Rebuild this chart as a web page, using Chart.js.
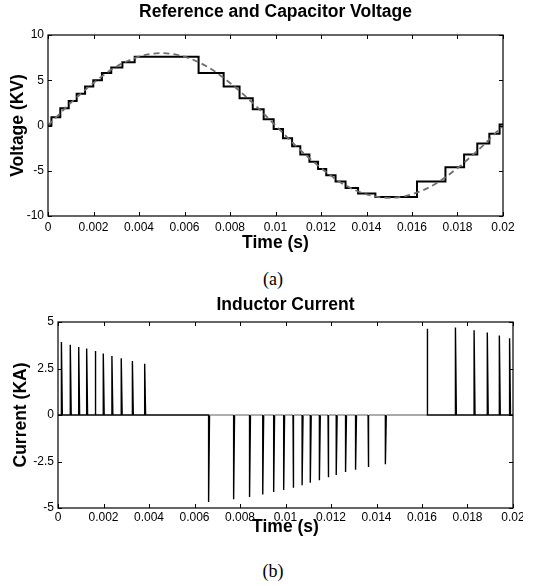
<!DOCTYPE html>
<html>
<head>
<meta charset="utf-8">
<script src="https://cdn.jsdelivr.net/npm/chart.js@4.4.0/dist/chart.umd.min.js"></script>
<style>
  body { margin: 0; background: #fff; width: 546px; height: 586px; position: relative; overflow: hidden; }
  .panel { position: absolute; left: 0; overflow: hidden; }
  .cap { position: absolute; width: 546px; text-align: center; font: 18px "Liberation Serif", "Times New Roman", serif; color: #000; }
</style>
</head>
<body>
<div class="panel" style="top:0; width:546px; height:255px;"><canvas id="voltChart" width="546" height="255"></canvas></div>
<div class="cap" style="top:269px; left:0;">(a)</div>
<div class="panel" style="top:295px; width:523px; height:245px;"><canvas id="currChart" width="546" height="245"></canvas></div>
<div class="cap" style="top:561px; left:0;">(b)</div>
<script>
// switching instants (s), shared by both plots
const switchTimes = [0.00015, 0.00054, 0.00091, 0.00126, 0.00163, 0.00199, 0.00237, 0.00278, 0.00327, 0.00381,
  0.00662, 0.00772, 0.00842, 0.00900, 0.00948, 0.00992, 0.01033, 0.01073, 0.01109, 0.01149, 0.01187, 0.01223,
  0.01264, 0.01308, 0.01363, 0.01439, 0.01622, 0.01747, 0.01829, 0.01887, 0.01940, 0.01985];

// capacitor voltage level (kV) after each switching instant
const capLevels = [0.9, 1.9, 2.7, 3.5, 4.3, 5.0, 5.8, 6.4, 7.0, 7.6,
  5.8, 4.3, 3.0, 1.8, 0.7, -0.4, -1.4, -2.3, -3.2, -4.0, -4.8, -5.5,
  -6.2, -6.9, -7.5, -7.9, -6.2, -4.6, -3.2, -2.0, -0.9, 0.1];

// reference voltage read every 1 ms (kV)
const refTimes = [0, 0.001, 0.002, 0.003, 0.004, 0.005, 0.006, 0.007, 0.008, 0.009, 0.01,
  0.011, 0.012, 0.013, 0.014, 0.015, 0.016, 0.017, 0.018, 0.019, 0.02];
const refValues = [0, 2.5, 4.7, 6.5, 7.6, 8.0, 7.6, 6.5, 4.7, 2.5, 0,
  -2.5, -4.7, -6.5, -7.6, -8.0, -7.6, -6.5, -4.7, -2.5, 0];

// inductor current peak (kA) at each switching instant
const currentPeaks = [3.92, 3.78, 3.66, 3.57, 3.44, 3.30, 3.17, 3.05, 2.90, 2.76,
  -4.68, -4.53, -4.41, -4.28, -4.14, -4.03, -3.91, -3.78, -3.64, -3.51, -3.35, -3.23,
  -3.06, -2.94, -2.80, -2.65, 4.64, 4.70, 4.55, 4.43, 4.27, 4.12];

const xTickLabels = ['0', '0.002', '0.004', '0.006', '0.008', '0.01', '0.012', '0.014', '0.016', '0.018', '0.02'];
const voltTickLabels = ['-10', '-5', '0', '5', '10'];
const currTickLabels = ['-5', '-2.5', '0', '2.5', '5'];

const pulseWidth = 0.00004;
const fontFamily = '"Liberation Sans", Arial, Helvetica, sans-serif';

// staircase points
const capPoints = [{x: 0, y: 0}];
let prev = 0;
switchTimes.forEach((t, i) => {
  capPoints.push({x: t, y: prev});
  capPoints.push({x: t, y: capLevels[i]});
  prev = capLevels[i];
});
capPoints.push({x: 0.02, y: prev});

const refPoints = refTimes.map((t, i) => ({x: t, y: refValues[i]}));

// current pulses
const currPoints = [{x: 0, y: 0}];
switchTimes.forEach((t, i) => {
  currPoints.push({x: t, y: 0});
  currPoints.push({x: t, y: currentPeaks[i]});
  currPoints.push({x: t + pulseWidth, y: 0});
});
currPoints.push({x: 0.02, y: 0});

const firstNeg = currentPeaks.findIndex(v => v < 0);
let lastNeg = firstNeg;
while (currentPeaks[lastNeg + 1] < 0) lastNeg++;
const greyFrom = switchTimes[firstNeg];
const greyTo = switchTimes[lastNeg + 1];

// MATLAB-like box with inward ticks
const frame = {
  id: 'frame',
  afterDraw(chart) {
    const {ctx, chartArea: a, scales: {x, y}} = chart;
    ctx.save();
    ctx.strokeStyle = '#000';
    ctx.lineWidth = 1.2;
    ctx.strokeRect(a.left, a.top, a.right - a.left, a.bottom - a.top);
    ctx.lineWidth = 1;
    ctx.beginPath();
    x.ticks.forEach(t => {
      const px = Math.round(x.getPixelForValue(t.value)) + 0.5;
      ctx.moveTo(px, a.bottom); ctx.lineTo(px, a.bottom - 4);
      ctx.moveTo(px, a.top); ctx.lineTo(px, a.top + 4);
    });
    y.ticks.forEach(t => {
      const py = Math.round(y.getPixelForValue(t.value)) + 0.5;
      ctx.moveTo(a.left, py); ctx.lineTo(a.left + 4, py);
      ctx.moveTo(a.right, py); ctx.lineTo(a.right - 4, py);
    });
    ctx.stroke();
    ctx.restore();
  }
};

function makeOptions(cfg) {
  return {
    responsive: false,
    animation: false,
    layout: {padding: {left: 0, right: cfg.padRight, top: 0, bottom: 0}},
    plugins: {
      legend: {display: false},
      tooltip: {enabled: false},
      title: {
        display: true,
        text: cfg.title,
        fullSize: false,
        color: '#000',
        font: {family: fontFamily, size: 17.5, weight: 'bold', lineHeight: 1.2},
        padding: {top: cfg.titleTop, bottom: cfg.titleGap}
      }
    },
    scales: {
      x: {
        type: 'linear',
        min: 0, max: 0.02,
        grid: {display: false, drawTicks: false},
        border: {display: false},
        ticks: {
          stepSize: 0.002,
          autoSkip: false,
          maxRotation: 0,
          padding: cfg.xTickPad,
          color: '#000',
          font: {family: fontFamily, size: 12},
          callback: (v, i) => xTickLabels[i]
        },
        title: {
          display: true,
          text: 'Time (s)',
          color: '#000',
          font: {family: fontFamily, size: 17.5, weight: 'bold', lineHeight: 1.2},
          padding: {top: 0, bottom: cfg.xTitlePad}
        },
        afterFit: s => { s.height = cfg.xHeight; s.paddingLeft = 0; s.paddingRight = 0; }
      },
      y: {
        min: cfg.yMin, max: cfg.yMax,
        grid: {display: false, drawTicks: false},
        border: {display: false},
        ticks: {
          stepSize: cfg.yStep,
          autoSkip: false,
          padding: 4,
          color: '#000',
          font: {family: fontFamily, size: 12},
          callback: (v, i) => cfg.yLabels[i]
        },
        title: {
          display: true,
          text: cfg.yTitle,
          color: '#000',
          font: {family: fontFamily, size: 17.5, weight: 'bold', lineHeight: 1.2},
          padding: {top: cfg.yTitlePad, bottom: 0}
        },
        afterFit: s => { s.width = cfg.yWidth; }
      }
    }
  };
}

new Chart(document.getElementById('voltChart'), {
  type: 'line',
  data: {
    datasets: [
      {
        data: refPoints,
        borderColor: '#6e6e6e',
        borderWidth: 1.8,
        borderDash: [6, 4],
        pointRadius: 0,
        cubicInterpolationMode: 'monotone'
      },
      {
        data: capPoints,
        borderColor: '#000',
        borderWidth: 2,
        pointRadius: 0,
        tension: 0
      }
    ]
  },
  options: makeOptions({
    title: 'Reference and Capacitor Voltage', titleTop: 2, titleGap: 12, padRight: 43,
    xHeight: 39, xTickPad: 4, xTitlePad: 1,
    yMin: -10, yMax: 10, yStep: 5, yLabels: voltTickLabels,
    yTitle: 'Voltage (KV)', yTitlePad: 7.5, yWidth: 48
  }),
  plugins: [frame]
});

new Chart(document.getElementById('currChart'), {
  type: 'line',
  data: {
    datasets: [{
      data: currPoints,
      borderColor: '#000',
      borderWidth: 1.4,
      pointRadius: 0,
      tension: 0,
      segment: {
        borderColor: c => (c.p0.parsed.y === 0 && c.p1.parsed.y === 0 &&
          c.p0.parsed.x >= greyFrom && c.p1.parsed.x <= greyTo) ? '#8c8c8c' : '#000'
      }
    }]
  },
  options: makeOptions({
    title: 'Inductor Current', titleTop: 0, titleGap: 6, padRight: 33,
    xHeight: 32, xTickPad: 2, xTitlePad: 2,
    yMin: -5, yMax: 5, yStep: 2.5, yLabels: currTickLabels,
    yTitle: 'Current (KA)', yTitlePad: 10.5, yWidth: 58
  }),
  plugins: [frame]
});
</script>
</body>
</html>
